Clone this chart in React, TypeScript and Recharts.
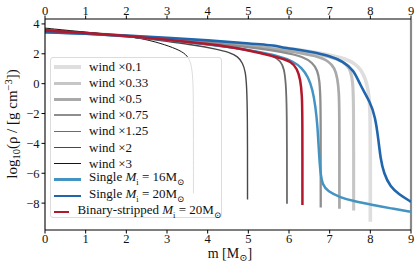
import { LineChart, Line, XAxis, YAxis, ReferenceLine } from "recharts";

// density profiles, m in Msun, v = log10(rho)
const wind01 = [
  { m: 0, v: 3.55 }, { m: 2, v: 3.2 }, { m: 3, v: 3.0 }, { m: 4, v: 2.85 }, { m: 5, v: 2.65 },
  { m: 6, v: 2.38 }, { m: 7, v: 1.95 }, { m: 7.4, v: 1.65 }, { m: 7.62, v: 1.35 }, { m: 7.78, v: 0.9 },
  { m: 7.88, v: 0.3 }, { m: 7.95, v: -0.4 }, { m: 7.99, v: -1.5 }, { m: 8.0, v: -3 }, { m: 8.0, v: -9.25 },
];
const wind033 = [
  { m: 0, v: 3.55 }, { m: 2, v: 3.2 }, { m: 3, v: 2.98 }, { m: 4, v: 2.82 }, { m: 5, v: 2.6 },
  { m: 6, v: 2.3 }, { m: 6.8, v: 1.95 }, { m: 7.2, v: 1.65 }, { m: 7.42, v: 1.3 }, { m: 7.52, v: 0.85 },
  { m: 7.57, v: 0.1 }, { m: 7.59, v: -1.2 }, { m: 7.59, v: -8.5 },
];
const wind05 = [
  { m: 0, v: 3.55 }, { m: 2, v: 3.2 }, { m: 3, v: 2.97 }, { m: 4, v: 2.8 }, { m: 5, v: 2.55 },
  { m: 6, v: 2.2 }, { m: 6.7, v: 1.85 }, { m: 6.98, v: 1.5 }, { m: 7.12, v: 1.05 }, { m: 7.19, v: 0.4 },
  { m: 7.23, v: -0.6 }, { m: 7.24, v: -2 }, { m: 7.24, v: -8.38 },
];
const wind075 = [
  { m: 0, v: 3.56 }, { m: 2, v: 3.2 }, { m: 3, v: 2.95 }, { m: 4, v: 2.75 }, { m: 5, v: 2.45 },
  { m: 5.9, v: 2.1 }, { m: 6.35, v: 1.8 }, { m: 6.58, v: 1.4 }, { m: 6.7, v: 0.9 }, { m: 6.75, v: 0.2 },
  { m: 6.77, v: -0.8 }, { m: 6.78, v: -2 }, { m: 6.78, v: -8.3 },
];
const wind125 = [
  { m: 0, v: 3.58 }, { m: 2, v: 3.2 }, { m: 3, v: 2.9 }, { m: 4, v: 2.62 }, { m: 4.55, v: 2.45 },
  { m: 5.2, v: 2.15 }, { m: 5.6, v: 1.9 }, { m: 5.8, v: 1.5 }, { m: 5.88, v: 1.0 }, { m: 5.92, v: 0.1 },
  { m: 5.95, v: -1.5 }, { m: 5.95, v: -8.05 },
];
const wind2 = [
  { m: 0, v: 3.62 }, { m: 1, v: 3.42 }, { m: 2, v: 3.2 }, { m: 3, v: 2.82 }, { m: 3.65, v: 2.6 },
  { m: 4.2, v: 2.32 }, { m: 4.55, v: 2.08 }, { m: 4.74, v: 1.82 }, { m: 4.86, v: 1.4 }, { m: 4.93, v: 0.8 },
  { m: 4.96, v: -0.2 }, { m: 4.98, v: -2 }, { m: 4.98, v: -7.75 },
];
const wind3 = [
  { m: 0, v: 3.72 }, { m: 1, v: 3.45 }, { m: 2, v: 3.2 }, { m: 2.6, v: 2.9 }, { m: 3.07, v: 2.5 },
  { m: 3.38, v: 2.15 }, { m: 3.54, v: 1.75 }, { m: 3.61, v: 1.1 }, { m: 3.64, v: 0.2 }, { m: 3.65, v: -1.5 },
  { m: 3.65, v: -7.35 },
];
const single16 = [
  { m: 0, v: 3.45 }, { m: 1, v: 3.35 }, { m: 2, v: 3.2 }, { m: 3, v: 2.92 }, { m: 4, v: 2.65 },
  { m: 4.55, v: 2.45 }, { m: 5.2, v: 2.15 }, { m: 5.75, v: 1.85 }, { m: 6.1, v: 1.5 }, { m: 6.32, v: 1.05 },
  { m: 6.47, v: 0.45 }, { m: 6.58, v: -0.4 }, { m: 6.65, v: -1.5 }, { m: 6.7, v: -2.8 }, { m: 6.73, v: -4.3 },
  { m: 6.77, v: -6.0 }, { m: 6.83, v: -6.8 }, { m: 6.95, v: -7.2 }, { m: 7.26, v: -7.62 }, { m: 7.6, v: -7.88 },
  { m: 8.08, v: -8.13 }, { m: 8.5, v: -8.35 }, { m: 9, v: -8.58 },
];
const single20 = [
  { m: 0, v: 3.45 }, { m: 1, v: 3.35 }, { m: 2, v: 3.22 }, { m: 3, v: 3.08 }, { m: 4, v: 2.9 },
  { m: 5, v: 2.7 }, { m: 5.72, v: 2.55 }, { m: 5.78, v: 2.43 }, { m: 6.1, v: 2.33 }, { m: 6.5, v: 2.15 },
  { m: 7.0, v: 1.88 }, { m: 7.34, v: 1.47 }, { m: 7.59, v: 0.92 }, { m: 7.75, v: -0.09 }, { m: 7.99, v: -1.2 },
  { m: 8.12, v: -2.2 }, { m: 8.2, v: -3.77 }, { m: 8.25, v: -5.0 }, { m: 8.33, v: -6.0 }, { m: 8.49, v: -6.9 },
  { m: 8.7, v: -7.4 }, { m: 9, v: -7.91 },
];
const stripped20 = [
  { m: 0, v: 3.55 }, { m: 1, v: 3.4 }, { m: 2, v: 3.2 }, { m: 3, v: 2.95 }, { m: 4, v: 2.68 },
  { m: 4.71, v: 2.4 }, { m: 5.3, v: 2.05 }, { m: 5.78, v: 1.72 }, { m: 6.05, v: 1.5 }, { m: 6.2, v: 1.0 },
  { m: 6.28, v: 0.3 }, { m: 6.32, v: -0.8 }, { m: 6.33, v: -2 }, { m: 6.33, v: -8.13 },
];

const xTicks = [0, 1, 2, 3, 4, 5, 6, 7, 8, 9];
const yTicks = [-8, -6, -4, -2, 0, 2, 4];

const series = [
  { name: "wind ×0.1", data: wind01, color: "#dedede", width: 3.6 },
  { name: "wind ×0.33", data: wind033, color: "#c6c6c6", width: 3.1 },
  { name: "wind ×0.5", data: wind05, color: "#a9a9a9", width: 2.7 },
  { name: "wind ×0.75", data: wind075, color: "#8e8e8e", width: 2.3 },
  { name: "wind ×1.25", data: wind125, color: "#6c6c6c", width: 1.8 },
  { name: "wind ×2", data: wind2, color: "#484848", width: 1.4 },
  { name: "wind ×3", data: wind3, color: "#161616", width: 1.0 },
  { name: "single16", data: single16, color: "#4393c3", width: 2.5 },
  { name: "single20", data: single20, color: "#2166ac", width: 2.6 },
  { name: "stripped20", data: stripped20, color: "#b2182b", width: 2.5 },
];

const serif = '"Liberation Serif", "DejaVu Serif", serif';
const tickStyle = { fill: "#111", fontSize: 12.5, fontFamily: serif };
const fmt = (v: number) => (v < 0 ? `\u2212${-v}` : `${v}`);

function legendLabel(name: string) {
  const mi = (
    <>
      <i>M</i>
      <sub style={{ fontSize: 8.5 }}>i</sub>
    </>
  );
  const sun = <sub style={{ fontSize: 8.5 }}>⊙</sub>;
  if (name === "single16") return <>Single {mi} = 16M{sun}</>;
  if (name === "single20") return <>Single {mi} = 20M{sun}</>;
  if (name === "stripped20") return <>Binary-stripped {mi} = 20M{sun}</>;
  return <>{name}</>;
}

function LegendBox() {
  return (
    <div
      style={{
        position: "absolute", left: 50, top: 57, width: 172, height: 161,
        border: "1px solid #dcdcdc", borderRadius: 3, background: "rgba(255,255,255,0.85)",
        fontFamily: serif, fontSize: 13, color: "#111", boxSizing: "border-box", paddingTop: 1,
      }}
    >
      {series.map((s) => (
        <div key={s.name} style={{ display: "flex", alignItems: "center", height: 16.1, lineHeight: "16px" }}>
          <div style={{ marginLeft: 3, width: 27, height: s.width, background: s.color }} />
          <div style={{ marginLeft: 8, whiteSpace: "nowrap" }}>{legendLabel(s.name)}</div>
        </div>
      ))}
    </div>
  );
}

export default function App() {
  return (
    <div style={{ position: "absolute", left: 0, top: 0, width: 415, height: 262, background: "#fff" }}>
      <LineChart width={415} height={262} margin={{ top: 4, right: 4, bottom: 12, left: 10 }}>
        <XAxis
          dataKey="m" type="number" domain={[0, 9]} ticks={xTicks} allowDataOverflow
          height={20} tick={tickStyle} tickSize={3.5} tickMargin={1}
          axisLine={{ stroke: "#000", strokeWidth: 1.1 }} tickLine={{ stroke: "#000" }}
          label={{
            content: () => (
              <text x={230} y={258} textAnchor="middle" fontFamily={serif} fontSize={14} fill="#111">
                m [M<tspan dy={2.5} fontSize={10}>⊙</tspan><tspan dy={-2.5}>]</tspan>
              </text>
            ),
          }}
        />
        <XAxis
          xAxisId="top" orientation="top" dataKey="m" type="number" domain={[0, 9]} ticks={xTicks}
          allowDataOverflow height={15} tick={tickStyle} tickSize={3.5} tickMargin={1}
          axisLine={{ stroke: "#000", strokeWidth: 1.1 }} tickLine={{ stroke: "#000" }}
        />
        <YAxis
          type="number" domain={[-9.8, 4.33]} ticks={yTicks} allowDataOverflow width={35}
          tick={tickStyle} tickSize={3.5} tickMargin={2} tickFormatter={fmt}
          axisLine={{ stroke: "#000", strokeWidth: 1.1 }} tickLine={{ stroke: "#000" }}
          label={{
            content: () => (
              <text transform="translate(17,124) rotate(-90)" textAnchor="middle" fontFamily={serif} fontSize={15} fill="#111">
                log<tspan dy={3} fontSize={10.5}>10</tspan>
                <tspan dy={-3}>(ρ / [g cm</tspan>
                <tspan dy={-5.5} fontSize={10.5}>−3</tspan>
                <tspan dy={5.5}>])</tspan>
              </text>
            ),
          }}
        />
        <ReferenceLine x={9} stroke="#8a8a8a" strokeWidth={2.2} />
        {series.map((s) => (
          <Line
            key={s.name} data={s.data} dataKey="v" type="basis" stroke={s.color}
            strokeWidth={s.width} dot={false} activeDot={false} isAnimationActive={false}
          />
        ))}
      </LineChart>
      <LegendBox />
    </div>
  );
}
